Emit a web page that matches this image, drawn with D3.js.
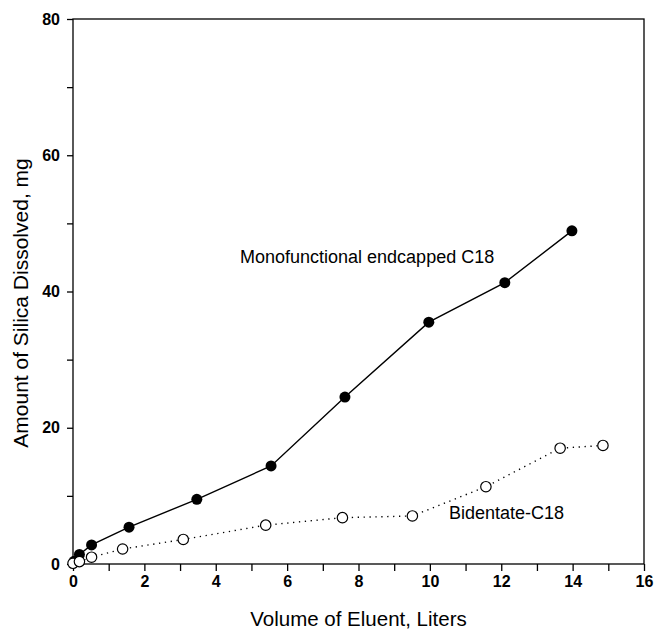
<!DOCTYPE html>
<html>
<head>
<meta charset="utf-8">
<script src="https://cdn.jsdelivr.net/npm/d3@7"></script>
<style>
	body { margin: 0; background: #fff; }
	text { font-family: Arial, 'Liberation Sans', sans-serif; fill: #000; }
</style>
</head>
<body>
<div id="chart"></div>
<script>
// data //
var monoX = [0.03, 0.18, 0.52, 1.57, 3.47, 5.55, 7.62, 9.97, 12.1, 13.98],
		monoY = [0.4, 1.4, 2.8, 5.4, 9.5, 14.4, 24.5, 35.5, 41.3, 48.9]

var bidX = [0, 0.18, 0.52, 1.39, 3.09, 5.4, 7.55, 9.51, 11.57, 13.65, 14.85],
		bidY = [0.1, 0.35, 1.0, 2.2, 3.6, 5.7, 6.8, 7.05, 11.35, 17.0, 17.4]

var xTickLabels = [0, 2, 4, 6, 8, 10, 12, 14, 16],
		yTickLabels = [0, 20, 40, 60, 80]

var monoLabel = 'Monofunctional endcapped C18',
		bidLabel = 'Bidentate-C18'

// svg //
var visWidth = 654,
		visHeight = 630,
		margin = { top: 19, right: 10, bottom: 66, left: 73 }

var vis = d3.select('#chart')
	.append('svg')
		.attr('width', visWidth)
		.attr('height', visHeight)

var plotW = visWidth - margin.left - margin.right,
		plotH = visHeight - margin.top - margin.bottom

var g = vis.append('g')
	.attr('transform', 'translate(' + margin.left + ',' + margin.top + ')')

// scales
var x = d3.scaleLinear().domain([0, 16]).range([0, plotW])
var y = d3.scaleLinear().domain([0, 80]).range([plotH, 0])

// axes //
var xAxis = d3.axisBottom(x)
	.tickValues(d3.range(0, 17, 1))
	.tickSize(7)
	.tickFormat(function(d){ return xTickLabels.indexOf(d) > -1 ? d : '' })

var yAxis = d3.axisLeft(y)
	.tickValues(d3.range(0, 81, 10))
	.tickSize(6)
	.tickFormat(function(d){ return yTickLabels.indexOf(d) > -1 ? d : '' })

var gx = g.append('g')
	.attr('transform', 'translate(0,' + plotH + ')')
	.call(xAxis)

var gy = g.append('g')
	.call(yAxis)

;[gx, gy].forEach(function(a){
	a.select('.domain').remove()
	a.selectAll('line').attr('stroke', '#000').attr('stroke-width', 1.3)
	a.selectAll('text')
		.style('font-size', '16px')
		.style('font-weight', 'bold')
		.style('font-family', 'Arial, "Liberation Sans", sans-serif')
		.attr('fill', '#000')
})
gx.selectAll('text').attr('y', 12)
gy.selectAll('text').attr('x', -13)

// frame
g.append('rect')
	.attr('x', 0)
	.attr('y', 0)
	.attr('width', plotW)
	.attr('height', plotH)
	.attr('fill', 'none')
	.attr('stroke', '#000')
	.attr('stroke-width', 1.3)

// axis titles
vis.append('text')
	.attr('x', margin.left + plotW / 2)
	.attr('y', 626)
	.attr('text-anchor', 'middle')
	.style('font-size', '20.5px')
	.text('Volume of Eluent, Liters')

vis.append('text')
	.attr('transform', 'translate(28,' + 303 + ') rotate(-90)')
	.attr('text-anchor', 'middle')
	.style('font-size', '21px')
	.text('Amount of Silica Dissolved, mg')

// series //
var line = d3.line()
	.x(function(d){ return x(d[0]) })
	.y(function(d){ return y(d[1]) })

var mono = d3.zip(monoX, monoY),
		bid = d3.zip(bidX, bidY)

g.append('path')
	.datum(mono)
	.attr('d', line)
	.attr('fill', 'none')
	.attr('stroke', '#000')
	.attr('stroke-width', 1.4)

g.append('path')
	.datum(bid)
	.attr('d', line)
	.attr('fill', 'none')
	.attr('stroke', '#000')
	.attr('stroke-width', 1.4)
	.attr('stroke-dasharray', '1.3,4.6')

g.selectAll('.mono')
		.data(mono).enter()
	.append('circle')
		.attr('class', 'mono')
		.attr('cx', function(d){ return x(d[0]) })
		.attr('cy', function(d){ return y(d[1]) })
		.attr('r', 5.5)
		.attr('fill', '#000')

g.selectAll('.bid')
		.data(bid).enter()
	.append('circle')
		.attr('class', 'bid')
		.attr('cx', function(d){ return x(d[0]) })
		.attr('cy', function(d){ return y(d[1]) })
		.attr('r', 5.2)
		.attr('fill', '#fff')
		.attr('stroke', '#000')
		.attr('stroke-width', 1.2)

// series labels
vis.append('text')
	.attr('x', 240)
	.attr('y', 263)
	.style('font-size', '18px')
	.text(monoLabel)

vis.append('text')
	.attr('x', 449)
	.attr('y', 519)
	.style('font-size', '18px')
	.text(bidLabel)
</script>
</body>
</html>
